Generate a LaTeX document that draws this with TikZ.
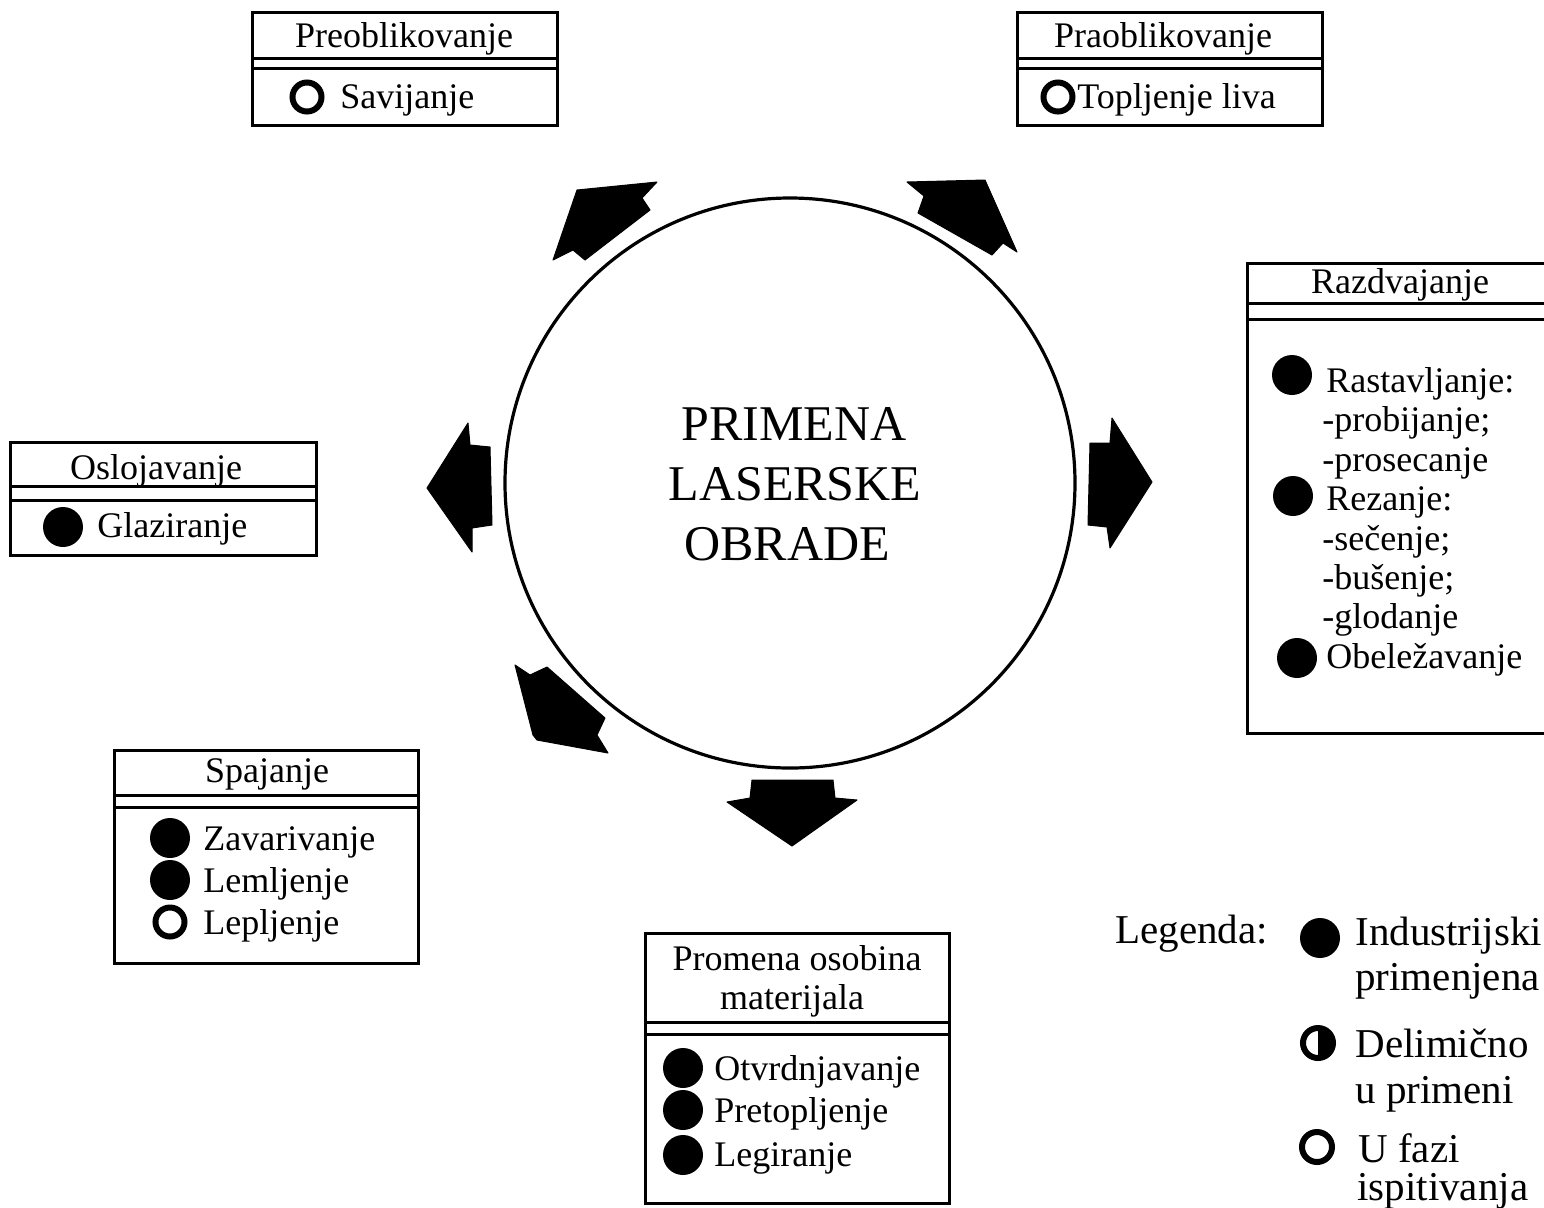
\documentclass[tikz,border=0pt]{standalone}
\usepackage{fontspec}
\setmainfont{Liberation Serif}
\tikzset{
  frame/.style={line width=1.5pt},
  title/.style={font=\fontsize{18}{20}\selectfont, anchor=base, inner sep=0pt},
  item/.style={font=\fontsize{18}{20}\selectfont, anchor=base west, inner sep=0pt},
  legtext/.style={font=\fontsize{20.5}{22}\selectfont, anchor=base west, inner sep=0pt},
  bigtext/.style={font=\fontsize{25}{30}\selectfont, anchor=base, inner sep=0pt},
  full/.style={circle, fill=black, inner sep=0pt, minimum size=20pt},
  ring/.style={circle, draw=black, line width=3pt, inner sep=0pt, minimum size=14.5pt},
  blockarrow/.style={fill=black, draw=black, line width=0.5pt, line join=round}
}
\begin{document}
\begin{tikzpicture}[x=0.5pt,y=-0.5pt]
\useasboundingbox (0,0) rectangle (1544,1207);
% centre
\draw[line width=1.6pt] (790,483) circle (285);
\node[bigtext] (l1) at (794,440) {PRIMENA};
\node[bigtext] (l2) at (795,500) {LASERSKE};
\node[bigtext] (l3) at (787,560) {OBRADE};
% arrows round the circle
\filldraw[blockarrow] (577,190) -- (657,182) -- (642,198) -- (650,210) -- (585,260) -- (573,250) -- (553,260) -- cycle;
\filldraw[blockarrow] (907,182) -- (985,180) -- (1017,252) -- (1003,243) -- (992,255) -- (918,213) -- (924,196) -- cycle;
\filldraw[blockarrow] (427,488) -- (468,423) -- (470,445) -- (490,447) -- (492,525) -- (472,528) -- (472,552) -- cycle;
\filldraw[blockarrow] (1152,482) -- (1110,548) -- (1107,527) -- (1088,525) -- (1090,443) -- (1110,443) -- (1112,418) -- cycle;
\filldraw[blockarrow] (515,665) -- (530,675) -- (547,667) -- (605,718) -- (597,735) -- (608,753) -- (537,740) -- (533,735) -- cycle;
\filldraw[blockarrow] (752,780) -- (833,780) -- (835,798) -- (857,800) -- (792,846) -- (727,802) -- (750,798) -- cycle;
% Preoblikovanje
\draw[frame] (252,12) rectangle (557,125);
\draw[frame] (252,58) -- (557,58);
\draw[frame] (252,68) -- (557,68);
\node[title] (preo) at (404,47) {Preoblikovanje};
\node[ring] (preo1) at (307,97) {};
\node[item] (sav) at (340,108) {Savijanje};
% Praoblikovanje
\draw[frame] (1017,12) rectangle (1322,125);
\draw[frame] (1017,58) -- (1322,58);
\draw[frame] (1017,68) -- (1322,68);
\node[title] (prao) at (1163,47) {Praoblikovanje};
\node[ring] (prao1) at (1058,97) {};
\node[item] (top) at (1077,108) {Topljenje liva};
% Razdvajanje
\draw[frame] (1247,263) rectangle (1570,733);
\draw[frame] (1247,303) -- (1570,303);
\draw[frame] (1247,319) -- (1570,319);
\node[title] (razd) at (1400,293) {Razdvajanje};
\node[full] (raz1) at (1292,375) {};
\node[full] (raz2) at (1293,496) {};
\node[full] (raz3) at (1297,658) {};
\node[item] (r1) at (1326,392) {Rastavljanje:};
\node[item] (r2) at (1322,431) {-probijanje;};
\node[item] (r3) at (1322,471) {-prosecanje};
\node[item] (r4) at (1326,510) {Rezanje:};
\node[item] (r5) at (1322,550) {-sečenje;};
\node[item] (r6) at (1322,589) {-bušenje;};
\node[item] (r7) at (1322,628) {-glodanje};
\node[item] (r8) at (1326,668) {Obeležavanje};
% Oslojavanje
\draw[frame] (10,442) rectangle (316,555);
\draw[frame] (10,486) -- (316,486);
\draw[frame] (10,500) -- (316,500);
\node[title] (oslo) at (156,479) {Oslojavanje};
\node[full] (oslo1) at (63,527) {};
\node[item] (glaz) at (97,537) {Glaziranje};
% Spajanje
\draw[frame] (114,750) rectangle (418,963);
\draw[frame] (114,795) -- (418,795);
\draw[frame] (114,807) -- (418,807);
\node[title] (spaj) at (267,782) {Spajanje};
\node[full] (spaj1) at (170,838) {};
\node[full] (spaj2) at (170,880) {};
\node[ring] (spaj3) at (170,922) {};
\node[item] (zav) at (203,850) {Zavarivanje};
\node[item] (lem) at (203,892) {Lemljenje};
\node[item] (lep) at (203,934) {Lepljenje};
% Promena osobina materijala
\draw[frame] (645,933) rectangle (949,1203);
\draw[frame] (645,1022) -- (949,1022);
\draw[frame] (645,1034) -- (949,1034);
\node[title] (prom) at (797,970) {Promena osobina};
\node[title] (mat) at (792,1009) {materijala};
\node[full] (prom1) at (683,1068) {};
\node[full] (prom2) at (683,1110) {};
\node[full] (prom3) at (683,1155) {};
\node[item] (otv) at (714,1080) {Otvrdnjavanje};
\node[item] (pret) at (714,1122) {Pretopljenje};
\node[item] (leg) at (714,1166) {Legiranje};
% Legenda
\node[legtext] (legenda) at (1115,943) {Legenda:};
\node[full] (leg1) at (1320,938) {};
\fill (1318,1043) +(0,-16) arc (-90:90:16) -- cycle;
\node[ring, minimum size=15pt] (leg2) at (1318,1043) {};
\node[ring, minimum size=15pt] (leg3) at (1317,1147) {};
\node[legtext] (ind) at (1355,945) {Industrijski};
\node[legtext] (prim) at (1355,990) {primenjena};
\node[legtext] (del) at (1355,1057) {Delimično};
\node[legtext] (upr) at (1355,1103) {u primeni};
\node[legtext] (ufa) at (1358,1162) {U fazi};
\node[legtext] (isp) at (1357,1200) {ispitivanja};
\end{tikzpicture}
\end{document}
